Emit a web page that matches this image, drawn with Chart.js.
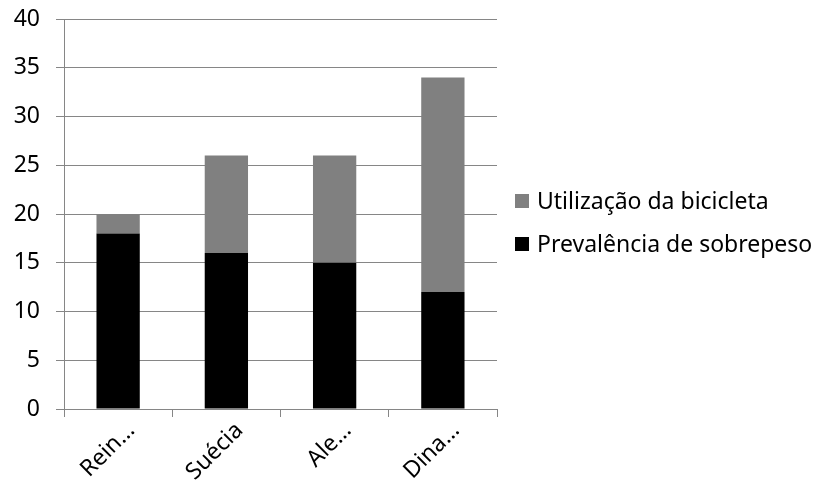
<!DOCTYPE html>
<html>
<head>
<meta charset="utf-8">
<script src="https://cdn.jsdelivr.net/npm/chart.js@4"></script>
<style>
  html, body { margin: 0; padding: 0; background: #ffffff; }
  #wrap { width: 816px; height: 492px; position: relative; }
</style>
</head>
<body>
<div id="wrap"><canvas id="c"></canvas></div>
<script>
// Countries (labels truncated as on the axis)
const categories = ['Rein…', 'Suécia', 'Ale…', 'Dina…'];
// Stacked series
const prevalenciaSobrepeso = [18, 16, 15, 12];
const utilizacaoBicicleta = [2, 10, 11, 22];
// Value axis
const yMin = 0;
const yMax = 40;
const yStep = 5;

const FONT = 'Noto Sans';
const FONT_SIZE = 23;
const GRID = '#868686';

// Legend drawn at the right of the plot, top-to-bottom in reverse stacking order
const sideLegend = {
  id: 'sideLegend',
  afterDraw(chart) {
    const ctx = chart.ctx;
    const area = chart.chartArea;
    const sets = chart.data.datasets.slice().reverse();
    const x0 = area.right + 18;
    const rowY = [201, 244];
    ctx.save();
    ctx.font = FONT_SIZE + 'px "' + FONT + '"';
    ctx.textBaseline = 'middle';
    ctx.textAlign = 'left';
    sets.forEach((ds, i) => {
      const cy = rowY[i];
      ctx.fillStyle = ds.backgroundColor;
      ctx.fillRect(x0, cy - 7, 14, 14);
      ctx.fillStyle = '#000000';
      ctx.fillText(ds.label, x0 + 22, cy + 1);
    });
    ctx.restore();
  }
};

new Chart(document.getElementById('c'), {
  type: 'bar',
  data: {
    labels: categories,
    datasets: [
      {
        label: 'Prevalência de sobrepeso',
        data: prevalenciaSobrepeso,
        backgroundColor: '#000000',
        borderWidth: 0
      },
      {
        label: 'Utilização da bicicleta',
        data: utilizacaoBicicleta,
        backgroundColor: '#808080',
        borderWidth: 0
      }
    ]
  },
  options: {
    responsive: true,
    maintainAspectRatio: false,
    animation: false,
    devicePixelRatio: 1,
    layout: { padding: { top: 19, right: 319, left: 0, bottom: 0 } },
    plugins: {
      legend: { display: false },
      tooltip: { enabled: false }
    },
    datasets: {
      bar: { categoryPercentage: 1.0, barPercentage: 0.4 }
    },
    scales: {
      x: {
        stacked: true,
        offset: true,
        grid: {
          display: true,
          offset: true,
          drawOnChartArea: false,
          drawTicks: true,
          tickLength: 8,
          color: GRID,
          lineWidth: 1
        },
        border: { display: true, color: GRID, width: 1 },
        ticks: {
          color: '#000000',
          font: { family: FONT, size: FONT_SIZE },
          maxRotation: 45,
          minRotation: 45,
          autoSkip: false,
          padding: 0,
          labelOffset: 13
        },
        afterFit(scale) {
          scale.height = 83;
          scale.paddingLeft = 0;
          scale.paddingRight = 0;
        }
      },
      y: {
        stacked: true,
        min: yMin,
        max: yMax,
        grid: {
          color: GRID,
          lineWidth: 1,
          drawTicks: true,
          tickLength: 8
        },
        border: { display: true, color: GRID, width: 1 },
        ticks: {
          stepSize: yStep,
          color: '#000000',
          font: { family: FONT, size: FONT_SIZE },
          padding: 16
        },
        afterFit(scale) {
          scale.width = 64;
          scale.paddingTop = 0;
          scale.paddingBottom = 0;
        }
      }
    }
  },
  plugins: [sideLegend]
});
</script>
</body>
</html>
